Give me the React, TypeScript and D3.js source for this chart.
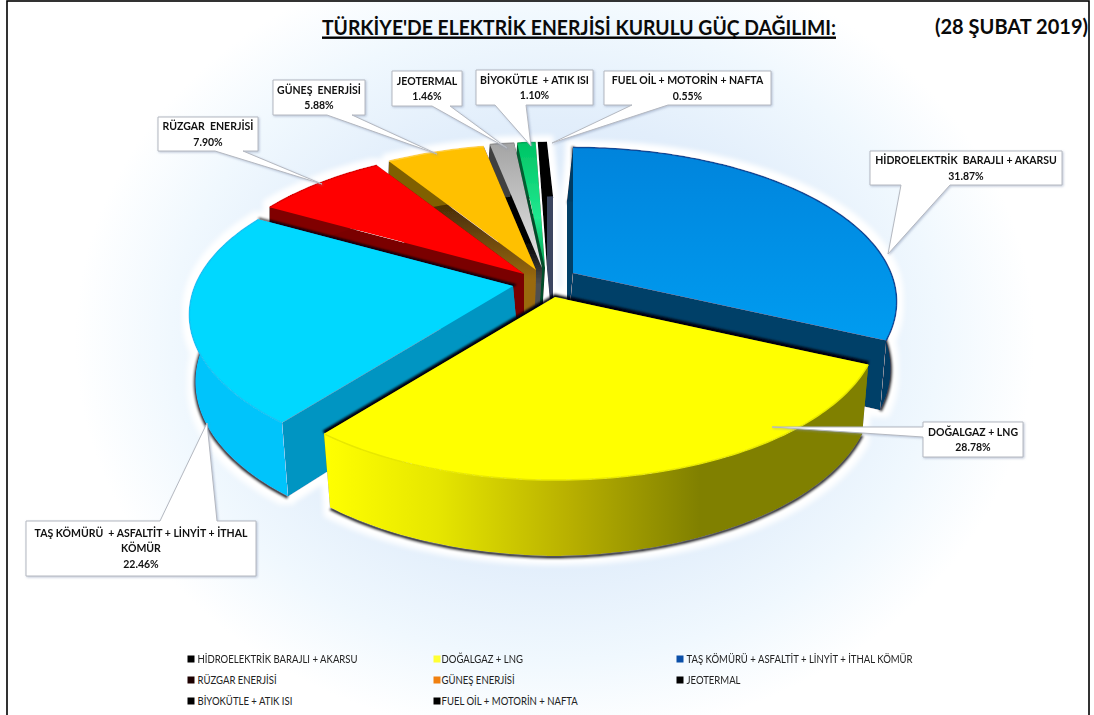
import React from "react";
import * as d3 from "d3";

const sliceNames = ["HİDROELEKTRİK BARAJLI + AKARSU", "DOĞALGAZ + LNG", "TAŞ KÖMÜRÜ + ASFALTİT + LİNYİT + İTHAL KÖMÜR", "RÜZGAR ENERJİSİ", "GÜNEŞ ENERJİSİ", "JEOTERMAL", "BİYOKÜTLE + ATIK ISI", "FUEL OİL + MOTORİN + NAFTA"];
const sliceValues = [31.87, 28.78, 22.46, 7.9, 5.88, 1.46, 1.1, 0.55];
const legendColors = ["#000000", "#ffff33", "#0a4fa8", "#1c0000", "#f08010", "#000000", "#000000", "#000000"];

const titleText = "TÜRKİYE'DE ELEKTRİK ENERJİSİ KURULU GÜÇ DAĞILIMI:";
const dateText = "(28 ŞUBAT 2019)";

// exploded-slice layout: screen position of each slice's inner point
const apexes: [number, number][] = [[573, 273], [555, 297], [513, 286], [524, 274], [536, 270], [542, 268], [545, 268], [547, 268]];
// horizontal lean of each slice's side walls (null: lean towards the pie's middle)
const wallLean: (number | null)[] = [-6, null, null, 0, -2, -4, -4, 6];
const topFills = ["url(#gBlue)", "#ffff00", "#00d8ff", "#ff0000", "#ffc000", "url(#gGrey)", "url(#gGreen)", "#000000"];
const radialFills = ["#003f68", "#808000", "#0095c2", "url(#gRedW)", "url(#gOrangeW)", "url(#gGreyW)", "#054d2a", "#3a4460"];
const outerFills = ["#003a62", "url(#gYellow)", "#00c4fb", "#800000", "#806000", "#404040", "#006030", "#000000"];
const edgeStrokes = ["#0a4a98", "#e8e800", "#14c4f4", "#e00000", "#ffd040", "#909090", "#00a858", "#000000"];
const drawOrder = [7, 6, 5, 4, 3, 2, 0, 1];

const calloutLines = [
  ["HİDROELEKTRİK  BARAJLI + AKARSU", "31.87%"],
  ["DOĞALGAZ + LNG", "28.78%"],
  ["TAŞ KÖMÜRÜ  + ASFALTİT + LİNYİT + İTHAL", "KÖMÜR", "22.46%"],
  ["RÜZGAR  ENERJİSİ", "7.90%"],
  ["GÜNEŞ  ENERJİSİ", "5.88%"],
  ["JEOTERMAL", "1.46%"],
  ["BİYOKÜTLE  + ATIK ISI", "1.10%"],
  ["FUEL OİL + MOTORİN + NAFTA", "0.55%"],
];
// box: x0,y0,x1,y1 ; tail: two base positions along the box side, then the tip
const calloutBoxes = [[870, 151, 1062, 185], [923, 422, 1023, 457], [26, 521, 256, 576], [158, 117, 258, 151], [273, 80, 365, 115], [392, 71, 462, 106], [476, 70, 593, 105], [604, 71, 771, 105]];
const calloutTails = [
  { side: "bottom", a: 901, b: 950, tip: [888, 254] },
  { side: "left", a: 427, b: 437, tip: [772, 427] },
  { side: "top", a: 160, b: 217, tip: [207, 423] },
  { side: "bottom", a: 215, b: 243, tip: [322, 184] },
  { side: "bottom", a: 327, b: 352, tip: [437, 154] },
  { side: "bottom", a: 432, b: 450, tip: [507, 148] },
  { side: "bottom", a: 495, b: 526, tip: [531, 146] },
  { side: "bottom", a: 632, b: 668, tip: [552, 143] },
];

const legendCols = [191, 437, 680];
const legendRows = [659, 680, 701];

const R = 318, Rs = 149, K = 0.186, VX = 557;

function project(a: number, r: number, apex: [number, number], bottom: boolean, lean: number | null): [number, number] {
  const u = Math.sin(a) * r;
  const v = -Math.cos(a) * r;
  const w = 1 - K * v;
  let x = apex[0] + (R * u) / w;
  let y = apex[1] + (Rs * v) / w;
  if (bottom) {
    y += 65 + 11 * v;
    x += lean !== null ? lean : Math.max(-1, Math.min(1, (VX - x) / 10)) * 6;
  }
  return [x, y];
}

const line = d3.line<[number, number]>().x((d) => d[0]).y((d) => d[1]);

function arcPts(a0: number, a1: number, apex: [number, number], bottom: boolean, lean: number | null) {
  const n = Math.max(2, Math.ceil((a1 - a0) / 0.02));
  return d3.range(n + 1).map((i) => project(a0 + ((a1 - a0) * i) / n, 1, apex, bottom, lean));
}

function calloutPath(box: number[], t: { side: string; a: number; b: number; tip: number[] }) {
  const [x0, y0, x1, y1] = box;
  const tip = `L${t.tip[0]},${t.tip[1]}`;
  if (t.side === "bottom") return `M${x0},${y0}H${x1}V${y1}H${t.b}${tip}L${t.a},${y1}H${x0}Z`;
  if (t.side === "top") return `M${x0},${y0}H${t.a}${tip}L${t.b},${y0}H${x1}V${y1}H${x0}Z`;
  return `M${x0},${y0}H${x1}V${y1}H${x0}V${t.b}${tip}L${x0},${t.a}Z`;
}

export default function App() {
  const arcs = d3.pie<number>().sort(null)(sliceValues);
  const font = "Lato, 'Open Sans', sans-serif";
  return (
    <svg width={1094} height={715} style={{ position: "absolute", left: 0, top: 0, display: "block" }}>
      <defs>
        <radialGradient id="bg" gradientUnits="userSpaceOnUse" cx={0} cy={0} r={1} gradientTransform="translate(555 340) scale(480 400)">
          <stop offset="0" stopColor="#cfe2f7" />
          <stop offset="0.55" stopColor="#e2eefb" />
          <stop offset="0.8" stopColor="#f0f8fe" />
          <stop offset="1" stopColor="#ffffff" />
        </radialGradient>
        <linearGradient id="gBlue" x1="0" x2="0" y1="0" y2="1">
          <stop offset="0" stopColor="#0584dc" />
          <stop offset="1" stopColor="#009cf0" />
        </linearGradient>
        <linearGradient id="gGrey" x1="0" x2="0" y1="0" y2="1">
          <stop offset="0" stopColor="#a4a4a4" />
          <stop offset="1" stopColor="#e6e6e6" />
        </linearGradient>
        <linearGradient id="gGreen" x1="0" x2="0" y1="0" y2="1">
          <stop offset="0" stopColor="#00c464" />
          <stop offset="0.6" stopColor="#20e890" />
          <stop offset="1" stopColor="#00a050" />
        </linearGradient>
        <linearGradient id="gGreyW" gradientUnits="userSpaceOnUse" x1="0" x2="0" y1="240" y2="285">
          <stop offset="0" stopColor="#000000" />
          <stop offset="1" stopColor="#505050" />
        </linearGradient>
        <linearGradient id="gOrangeW" gradientUnits="userSpaceOnUse" x1="0" x2="0" y1="165" y2="280">
          <stop offset="0" stopColor="#2a1500" />
          <stop offset="0.5" stopColor="#5a3a08" />
          <stop offset="1" stopColor="#9a6a10" />
        </linearGradient>
        <linearGradient id="gRedW" gradientUnits="userSpaceOnUse" x1="270" x2="340" y1="0" y2="0">
          <stop offset="0" stopColor="#300000" />
          <stop offset="1" stopColor="#7a0000" />
        </linearGradient>
        <linearGradient id="gYellow" gradientUnits="userSpaceOnUse" x1="326" x2="700" y1="0" y2="0">
          <stop offset="0" stopColor="#ffff00" />
          <stop offset="0.3" stopColor="#e6e600" />
          <stop offset="0.65" stopColor="#b8b000" />
          <stop offset="1" stopColor="#808000" />
        </linearGradient>
        <filter id="halo" filterUnits="userSpaceOnUse" x="140" y="100" width="800" height="500">
          <feMorphology in="SourceAlpha" operator="dilate" radius="6" result="d" />
          <feGaussianBlur in="d" stdDeviation="2.4" result="b" />
          <feFlood floodColor="#ffffff" />
          <feComposite in2="b" operator="in" result="w" />
          <feMerge>
            <feMergeNode in="w" />
            <feMergeNode in="SourceGraphic" />
          </feMerge>
        </filter>
        <filter id="soft" x="-10%" y="-10%" width="120%" height="120%">
          <feGaussianBlur stdDeviation="0.8" />
        </filter>
        <filter id="boxShadow" x="-10%" y="-10%" width="120%" height="130%">
          <feDropShadow dx="1" dy="1" stdDeviation="1" floodColor="#8090b0" floodOpacity="0.5" />
        </filter>
      </defs>

      <rect x={7} y={1} width={1082} height={720} fill="url(#bg)" stroke="#000" strokeWidth={1.6} />

      <text x={322} y={35} fontFamily={font} fontWeight={700} fontSize={20.5} fill="#0a0a0a" textLength={514} lengthAdjust="spacingAndGlyphs">{titleText}</text>
      <rect x={322} y={36.5} width={514} height={2.4} fill="#000" />
      <text x={935} y={34} fontFamily={font} fontWeight={700} fontSize={20.5} fill="#0a0a0a" textLength={153} lengthAdjust="spacingAndGlyphs">{dateText}</text>

      <g filter="url(#halo)">
        {drawOrder.map((i) => {
          const s = arcs[i];
          const apex = apexes[i];
          const lean = wallLean[i];
          const a0 = s.startAngle, a1 = s.endAngle;
          const topArc = arcPts(a0, a1, apex, false, lean);
          const botArc = arcPts(a0, a1, apex, true, lean);
          const apexTop = project(0, 0, apex, false, lean);
          const apexBot = project(0, 0, apex, true, lean);
          const topFace = line([apexTop, ...topArc])! + "Z";
          const outerWall = line([...topArc, ...botArc.slice().reverse()])! + "Z";
          const wall0 = line([apexTop, topArc[0], botArc[0], apexBot])! + "Z";
          const wall1 = line([apexTop, topArc[topArc.length - 1], botArc[botArc.length - 1], apexBot])! + "Z";
          const radialEdges = line([topArc[0], apexTop, topArc[topArc.length - 1]])!;
          const outerEdge = line(topArc)!;
          return (
            <g key={sliceNames[i]}>
              <path d={line(botArc)!} fill="none" stroke="#00001a" strokeWidth={4} filter="url(#soft)" transform="translate(0 1)" />
              {i < 3 && <path d={radialEdges} fill="none" stroke="#00000f" strokeWidth={i === 1 ? 5 : 3} filter="url(#soft)" transform="translate(0 -1)" />}
              <path d={wall0} fill={radialFills[i]} />
              <path d={wall1} fill={radialFills[i]} />
              <path d={outerWall} fill={outerFills[i]} />
              <path d={topFace} fill={topFills[i]} />
              <path d={outerEdge} fill="none" stroke={edgeStrokes[i]} strokeWidth={1.5} />
            </g>
          );
        })}
      </g>

      {calloutLines.map((lines, i) => {
        const box = calloutBoxes[i];
        const cx = (box[0] + box[2]) / 2;
        const cy = (box[1] + box[3]) / 2;
        const lh = 15.5;
        return (
          <g key={i}>
            <path d={calloutPath(box, calloutTails[i])} fill="#ffffff" stroke="#b4b8c0" strokeWidth={1} filter="url(#boxShadow)" />
            {lines.map((t, j) => (
              <text key={j} x={cx} y={cy + (j - (lines.length - 1) / 2) * lh + 3.8} textAnchor="middle" fontFamily={font} fontWeight={700} fontSize={10.5} fill="#111" style={{ whiteSpace: "pre" }}>{t}</text>
            ))}
          </g>
        );
      })}

      {sliceNames.map((name, i) => {
        const col = i % 3, row = Math.floor(i / 3);
        const x = legendCols[col], y = legendRows[row];
        return (
          <g key={name}>
            <rect x={x - 3.5} y={y - 3.5} width={7} height={7} fill={legendColors[i]} />
            <text transform={`translate(${x + (col === 1 ? 4.5 : 6.5)} ${y + 3.7}) scale(0.91 1)`} fontFamily={font} fontSize={10.5} fill="#222">{name}</text>
          </g>
        );
      })}
    </svg>
  );
}
